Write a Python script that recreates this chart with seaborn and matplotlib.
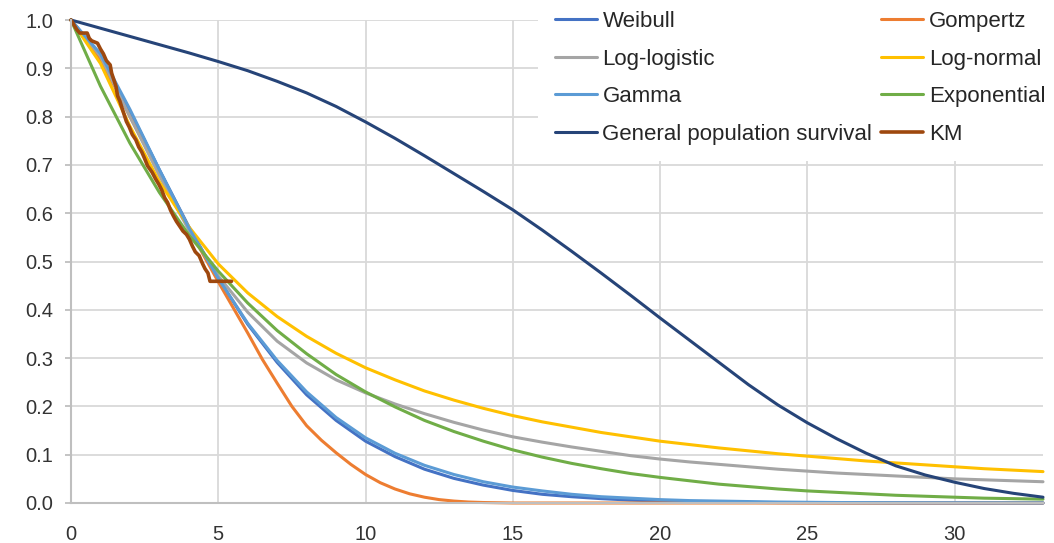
"""
Survival curves: parametric fits vs Kaplan-Meier and general population
"""

import matplotlib
matplotlib.use('Agg')
import matplotlib.pyplot as plt
import seaborn as sns

# ---- data ----
years = list(range(0, 34))

weibull = [1.0, 0.925, 0.812, 0.69, 0.572, 0.465, 0.37, 0.291, 0.224, 0.171,
           0.128, 0.096, 0.07, 0.051, 0.037, 0.026, 0.018, 0.013, 0.009, 0.006,
           0.004, 0.003, 0.002, 0.0012, 0.0008, 0.0005, 0.0003, 0.0002, 0.0001,
           0.0, 0.0, 0.0, 0.0, 0.0]

gamma = [1.0, 0.93, 0.815, 0.69, 0.57, 0.465, 0.372, 0.295, 0.23, 0.177,
         0.135, 0.103, 0.078, 0.059, 0.044, 0.033, 0.025, 0.018, 0.013, 0.01,
         0.007, 0.005, 0.004, 0.003, 0.002, 0.0015, 0.001, 0.0008, 0.0006,
         0.0005, 0.0004, 0.0003, 0.0002, 0.0002]

loglogistic = [1.0, 0.925, 0.8, 0.678, 0.565, 0.47, 0.395, 0.335, 0.29, 0.255,
               0.228, 0.205, 0.185, 0.167, 0.151, 0.137, 0.126, 0.116, 0.107,
               0.098, 0.091, 0.085, 0.08, 0.075, 0.07, 0.066, 0.062, 0.059,
               0.056, 0.053, 0.05, 0.048, 0.046, 0.044]

lognormal = [1.0, 0.91, 0.78, 0.665, 0.572, 0.495, 0.435, 0.386, 0.345, 0.31,
             0.28, 0.255, 0.232, 0.213, 0.196, 0.181, 0.168, 0.157, 0.146,
             0.137, 0.128, 0.121, 0.114, 0.108, 0.102, 0.097, 0.092, 0.087,
             0.083, 0.079, 0.075, 0.071, 0.068, 0.065]

exponential = [1.0, 0.863, 0.745, 0.643, 0.555, 0.48, 0.414, 0.357, 0.309,
               0.266, 0.23, 0.199, 0.171, 0.148, 0.128, 0.11, 0.095, 0.082,
               0.071, 0.061, 0.053, 0.046, 0.039, 0.034, 0.029, 0.025, 0.022,
               0.019, 0.016, 0.014, 0.012, 0.01, 0.009, 0.008]

general_pop = [1.0, 0.983, 0.966, 0.949, 0.932, 0.914, 0.895, 0.873, 0.849,
               0.821, 0.789, 0.755, 0.719, 0.682, 0.645, 0.607, 0.565, 0.521,
               0.476, 0.43, 0.383, 0.337, 0.291, 0.245, 0.203, 0.166, 0.133,
               0.103, 0.077, 0.058, 0.043, 0.03, 0.02, 0.012]

gomp_years = [0, 0.5, 1, 1.5, 2, 2.5, 3, 3.5, 4, 4.5, 5, 5.5, 6, 6.5, 7, 7.5,
              8, 8.5, 9, 9.5, 10, 10.5, 11, 11.5, 12, 12.5, 13, 13.5, 14, 14.5,
              15, 20, 25, 30, 33]
gompertz = [1.0, 0.96, 0.915, 0.86, 0.8, 0.742, 0.685, 0.627, 0.57, 0.513,
            0.458, 0.405, 0.352, 0.297, 0.248, 0.2, 0.16, 0.13, 0.104, 0.08,
            0.059, 0.042, 0.029, 0.019, 0.012, 0.007, 0.004, 0.002, 0.001,
            0.0005, 0.0, 0.0, 0.0, 0.0, 0.0]

# Kaplan-Meier path (vertices of the jagged line)
km_years = [0, 0.1, 0.2, 0.3, 0.55, 0.62, 0.7, 0.9, 1.0, 1.1, 1.2, 1.33, 1.38,
            1.45, 1.53, 1.58, 1.66, 1.73, 1.8, 1.88, 1.98, 2.08, 2.2, 2.3, 2.4,
            2.5, 2.6, 2.75, 2.88, 2.98, 3.08, 3.18, 3.28, 3.38, 3.48, 3.58,
            3.68, 3.8, 3.92, 4.02, 4.12, 4.22, 4.35, 4.47, 4.55, 4.65, 4.72,
            5.45]
km = [1.0, 0.99, 0.98, 0.973, 0.973, 0.962, 0.957, 0.952, 0.94, 0.93, 0.916,
      0.907, 0.89, 0.877, 0.862, 0.843, 0.832, 0.818, 0.805, 0.79, 0.778,
      0.763, 0.752, 0.737, 0.727, 0.713, 0.698, 0.685, 0.67, 0.66, 0.648,
      0.632, 0.622, 0.606, 0.594, 0.583, 0.574, 0.563, 0.556, 0.546, 0.532,
      0.52, 0.512, 0.495, 0.485, 0.476, 0.459, 0.459]

x_ticks = [0, 5, 10, 15, 20, 25, 30]
y_ticks = [0.0, 0.1, 0.2, 0.3, 0.4, 0.5, 0.6, 0.7, 0.8, 0.9, 1.0]

sns.set_style('white')
plt.rcParams['font.family'] = ['Liberation Sans', 'DejaVu Sans']

fig = plt.figure(figsize=(10.54, 5.43), dpi=100)
ax = fig.add_axes([71 / 1054, 40 / 543, 972 / 1054, 483 / 543])

series = [
    ('Weibull', years, weibull, '#4472C4'),
    ('Gompertz', gomp_years, gompertz, '#ED7D31'),
    ('Log-logistic', years, loglogistic, '#A5A5A5'),
    ('Log-normal', years, lognormal, '#FFC000'),
    ('Gamma', years, gamma, '#5B9BD5'),
    ('Exponential', years, exponential, '#70AD47'),
    ('General population survival', years, general_pop, '#264478'),
]

handles = {}
for name, xs, ys, col in series:
    sns.lineplot(x=xs, y=ys, color=col, lw=2.2, ax=ax, clip_on=False,
                 label=name, legend=False)
    handles[name] = ax.lines[-1]

sns.lineplot(x=km_years, y=km, color='#9E480E', lw=2.6, ax=ax, sort=False,
             clip_on=False, label='KM', legend=False)
handles['KM'] = ax.lines[-1]

ax.set_xlim(0, 33)
ax.set_ylim(0, 1.0)
ax.set_xticks(x_ticks)
ax.set_yticks(y_ticks)
ax.set_yticklabels([f'{v:.1f}' for v in y_ticks])
ax.grid(True, color='#D9D9D9', lw=1.3)
ax.set_axisbelow(True)
for side in ['top', 'right']:
    ax.spines[side].set_visible(False)
for side in ['left', 'bottom']:
    ax.spines[side].set_color('#BFBFBF')
    ax.spines[side].set_linewidth(1.5)
ax.tick_params(axis='y', length=4, width=1.3, color='#BFBFBF', pad=9,
               labelsize=14.5, labelcolor='#333333', left=True)
ax.tick_params(axis='x', length=0, pad=16, labelsize=14.5, labelcolor='#333333')
ax.set_xlabel('')
ax.set_ylabel('')

# legend: two columns, filled column-wise
order = ['Weibull', 'Log-logistic', 'Gamma', 'General population survival',
         'Gompertz', 'Log-normal', 'Exponential', 'KM']
leg = ax.legend([handles[k] for k in order], order, ncol=2,
                loc='upper left', bbox_to_anchor=(538 / 1054, 1.01),
                bbox_transform=fig.transFigure, fontsize=16,
                handlelength=1.9, handletextpad=0.25, columnspacing=0.4,
                labelspacing=0.74, borderpad=0.75, frameon=True,
                fancybox=False, framealpha=1.0, facecolor='white',
                edgecolor='none', borderaxespad=0)
for t in leg.get_texts():
    t.set_color('#262626')

plt.savefig('out.png', dpi=100)
plt.close()
